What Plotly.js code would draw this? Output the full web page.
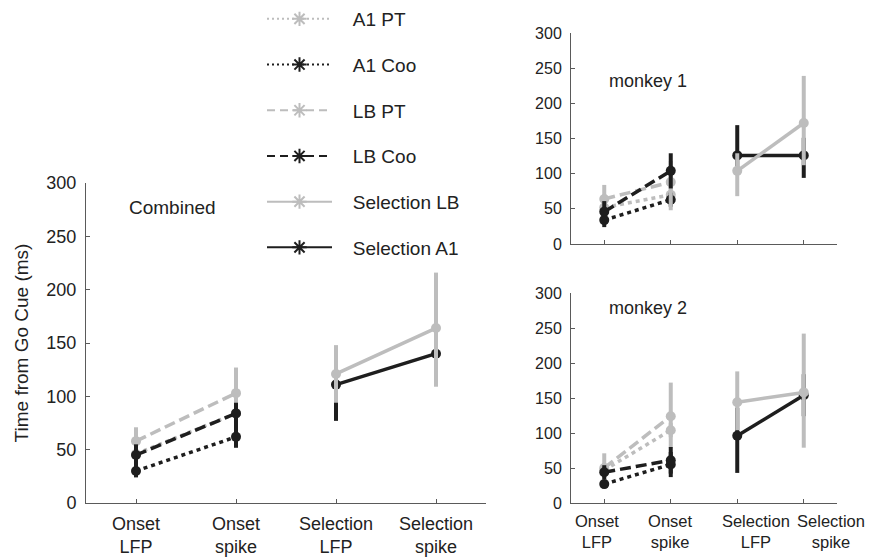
<!DOCTYPE html>
<html><head><meta charset="utf-8">
<script src="https://cdn.plot.ly/plotly-3.0.1.min.js"></script>
<style>html,body{margin:0;padding:0;background:#fff}#chart{width:873px;height:559px}</style>
</head><body><div id="chart"></div>
<script>
// ---------- DATA ----------
const categories = ["Onset<br>LFP", "Onset<br>spike", "Selection<br>LFP", "Selection<br>spike"];
const onsetCats = [categories[0], categories[1]];
const selectionCats = [categories[2], categories[3]];
const yTickVals = [0, 50, 100, 150, 200, 250, 300];
const seriesNames = ["A1 PT", "A1 Coo", "LB PT", "LB Coo", "Selection LB", "Selection A1"];
const panelTitles = ["Combined", "monkey 1", "monkey 2"];

// Combined
const combinedA1PT = [46, 84],   combinedA1PTUp = [8, 14],   combinedA1PTDown = [8, 14];
const combinedA1Coo = [30, 62],  combinedA1CooUp = [6, 10],  combinedA1CooDown = [6, 10];
const combinedLBPT = [58, 103],  combinedLBPTUp = [13, 24],  combinedLBPTDown = [13, 24];
const combinedLBCoo = [45, 84],  combinedLBCooUp = [10, 10], combinedLBCooDown = [10, 32];
const combinedSelLB = [121, 164], combinedSelLBUp = [27, 52], combinedSelLBDown = [27, 55];
const combinedSelA1 = [111, 140], combinedSelA1Up = [36, 30], combinedSelA1Down = [34, 30];

// Monkey 1
const m1A1PT = [52, 70],    m1A1PTUp = [10, 10],  m1A1PTDown = [10, 10];
const m1A1Coo = [34, 63],   m1A1CooUp = [10, 10], m1A1CooDown = [10, 10];
const m1LBPT = [64, 88],    m1LBPTUp = [20, 30],  m1LBPTDown = [20, 40];
const m1LBCoo = [46, 104],  m1LBCooUp = [15, 25], m1LBCooDown = [15, 25];
const m1SelLB = [104, 172], m1SelLBUp = [25, 67], m1SelLBDown = [36, 60];
const m1SelA1 = [126, 126], m1SelA1Up = [43, 25], m1SelA1Down = [20, 32];

// Monkey 2
const m2A1PT = [47, 104],   m2A1PTUp = [10, 10],  m2A1PTDown = [10, 10];
const m2A1Coo = [27, 55],   m2A1CooUp = [6, 18],  m2A1CooDown = [6, 18];
const m2LBPT = [50, 124],   m2LBPTUp = [21, 48],  m2LBPTDown = [15, 45];
const m2LBCoo = [44, 61],   m2LBCooUp = [10, 19], m2LBCooDown = [10, 19];
const m2SelLB = [144, 158], m2SelLBUp = [44, 84], m2SelLBDown = [40, 79];
const m2SelA1 = [96, 154],  m2SelA1Up = [40, 30], m2SelA1Down = [53, 30];

// ---------- STYLE ----------
const GRAY = "#bdbdbd", BLACK = "#1e1e1e", AXIS = "#5a5a5a";
const FONT = "Liberation Sans, Arial, Helvetica, sans-serif";
const W = 873, H = 559;
const styles = {
  "A1 PT":        {color: GRAY,  dash: "4px,4px",  ldash: "2px,3px"},
  "A1 Coo":       {color: BLACK, dash: "4px,4px",  ldash: "2px,3px"},
  "LB PT":        {color: GRAY,  dash: "11px,5px", ldash: "8px,5px"},
  "LB Coo":       {color: BLACK, dash: "11px,5px", ldash: "8px,5px"},
  "Selection LB": {color: GRAY,  dash: "solid",    ldash: "solid"},
  "Selection A1": {color: BLACK, dash: "solid",    ldash: "solid"}
};
// drawing order inside each panel (gray selection drawn above black)
const drawOrder = ["A1 PT", "A1 Coo", "LB PT", "LB Coo", "Selection A1", "Selection LB"];

const panels = [
  {ax: ["x", "y"], series: {
    "A1 PT": [onsetCats, combinedA1PT, combinedA1PTUp, combinedA1PTDown],
    "A1 Coo": [onsetCats, combinedA1Coo, combinedA1CooUp, combinedA1CooDown],
    "LB PT": [onsetCats, combinedLBPT, combinedLBPTUp, combinedLBPTDown],
    "LB Coo": [onsetCats, combinedLBCoo, combinedLBCooUp, combinedLBCooDown],
    "Selection LB": [selectionCats, combinedSelLB, combinedSelLBUp, combinedSelLBDown],
    "Selection A1": [selectionCats, combinedSelA1, combinedSelA1Up, combinedSelA1Down]}},
  {ax: ["x2", "y2"], series: {
    "A1 PT": [onsetCats, m1A1PT, m1A1PTUp, m1A1PTDown],
    "A1 Coo": [onsetCats, m1A1Coo, m1A1CooUp, m1A1CooDown],
    "LB PT": [onsetCats, m1LBPT, m1LBPTUp, m1LBPTDown],
    "LB Coo": [onsetCats, m1LBCoo, m1LBCooUp, m1LBCooDown],
    "Selection LB": [selectionCats, m1SelLB, m1SelLBUp, m1SelLBDown],
    "Selection A1": [selectionCats, m1SelA1, m1SelA1Up, m1SelA1Down]}},
  {ax: ["x3", "y3"], series: {
    "A1 PT": [onsetCats, m2A1PT, m2A1PTUp, m2A1PTDown],
    "A1 Coo": [onsetCats, m2A1Coo, m2A1CooUp, m2A1CooDown],
    "LB PT": [onsetCats, m2LBPT, m2LBPTUp, m2LBPTDown],
    "LB Coo": [onsetCats, m2LBCoo, m2LBCooUp, m2LBCooDown],
    "Selection LB": [selectionCats, m2SelLB, m2SelLBUp, m2SelLBDown],
    "Selection A1": [selectionCats, m2SelA1, m2SelA1Up, m2SelA1Down]}}
];

const traces = [];
panels.forEach(p => {
  drawOrder.forEach(name => {
    const s = p.series[name];
    const st = styles[name];
    traces.push({
      type: "scatter", mode: "lines+markers", name: name, showlegend: false,
      x: s[0], y: s[1], xaxis: p.ax[0], yaxis: p.ax[1],
      line: {color: st.color, width: 3.5, dash: st.dash},
      marker: {color: st.color, size: 10, symbol: "circle"},
      error_y: {type: "data", symmetric: false, array: s[2], arrayminus: s[3],
                color: st.color, thickness: 4, width: 0},
      hoverinfo: "skip"
    });
  });
});
// empty trace so the label-only axis of monkey 2 is drawn
traces.push({type: "scatter", mode: "markers", x: [null], y: [null], xaxis: "x4", yaxis: "y3",
  showlegend: false, hoverinfo: "skip"});
// legend entries
seriesNames.forEach((n, i) => {
  const st = styles[n];
  traces.push({
    type: "scatter", mode: "lines+markers", name: "\u00a0\u00a0\u00a0" + n, legendgroup: "g" + i,
    x: [null], y: [null], xaxis: "x", yaxis: "y",
    line: {color: st.color, width: 2, dash: st.ldash},
    marker: {color: st.color, size: 12, symbol: "asterisk-open", line: {color: st.color, width: 2}}
  });
});

function px(x) { return x / W; }
function py(y) { return 1 - y / H; }

function xAxis(domain, anchor, showLabels, fs) {
  return {domain: domain, anchor: anchor, type: "category", categoryorder: "array",
    categoryarray: categories, range: [-0.5, 3.5], showline: true, linecolor: AXIS, linewidth: 1,
    ticks: "inside", ticklen: 4, tickcolor: AXIS, showgrid: false, zeroline: false,
    showticklabels: showLabels, tickangle: 0, tickfont: {family: FONT, size: fs, color: "#222"},
    ticklabelstandoff: 4, fixedrange: true};
}
function yAxis(domain, anchor, fs, title) {
  const a = {domain: domain, anchor: anchor, range: [0, 300], tickvals: yTickVals,
    showline: true, linecolor: AXIS, linewidth: 1, ticks: "inside", ticklen: 4, tickcolor: AXIS,
    showgrid: false, zeroline: false, tickfont: {family: FONT, size: fs, color: "#222"},
    ticklabelstandoff: 5, fixedrange: true};
  if (title) a.title = {text: title, font: {family: FONT, size: 19, color: "#222"}, standoff: 12};
  return a;
}

// monkey 2 tick labels are nudged apart in the reference: separate label-only axis
const m2LabelPos = [-0.11, 0.99, 2.28, 3.41];

const layout = {
  width: W, height: H, margin: {l: 0, r: 0, t: 0, b: 0},
  paper_bgcolor: "#fff", plot_bgcolor: "#fff",
  font: {family: FONT, color: "#222"},
  xaxis:  xAxis([px(86), px(486)], "y", true, 18),
  yaxis:  yAxis([py(503), py(183)], "x", 18, "Time from Go Cue (ms)"),
  xaxis2: xAxis([px(571), px(837)], "y2", false, 16),
  yaxis2: yAxis([py(244), py(33)], "x2", 16),
  xaxis3: xAxis([px(571), px(837)], "y3", false, 16),
  yaxis3: yAxis([py(503), py(293)], "x3", 16),
  xaxis4: {overlaying: "x3", anchor: "y3", range: [-0.5, 3.5], tickmode: "array", tickvals: m2LabelPos, ticktext: categories,
    showline: false, ticks: "", showgrid: false, zeroline: false, tickangle: 0, showticklabels: true,
    tickfont: {family: FONT, size: 16.5, color: "#222"}, ticklabelstandoff: 6, fixedrange: true},
  legend: {x: px(262), y: 1, xanchor: "left", yanchor: "top", traceorder: "grouped",
    tracegroupgap: 18, itemwidth: 65, font: {family: FONT, size: 19, color: "#222"},
    bgcolor: "rgba(0,0,0,0)"},
  annotations: [
    {text: panelTitles[0], xref: "paper", yref: "paper", x: px(127), y: py(207), xanchor: "left", yanchor: "middle", showarrow: false, font: {family: FONT, size: 19, color: "#222"}},
    {text: panelTitles[1], xref: "paper", yref: "paper", x: px(607), y: py(81), xanchor: "left", yanchor: "middle", showarrow: false, font: {family: FONT, size: 18, color: "#222"}},
    {text: panelTitles[2], xref: "paper", yref: "paper", x: px(607), y: py(308), xanchor: "left", yanchor: "middle", showarrow: false, font: {family: FONT, size: 18, color: "#222"}}
  ]
};

Plotly.newPlot("chart", traces, layout, {displayModeBar: false, staticPlot: true});
</script>
</body></html>
